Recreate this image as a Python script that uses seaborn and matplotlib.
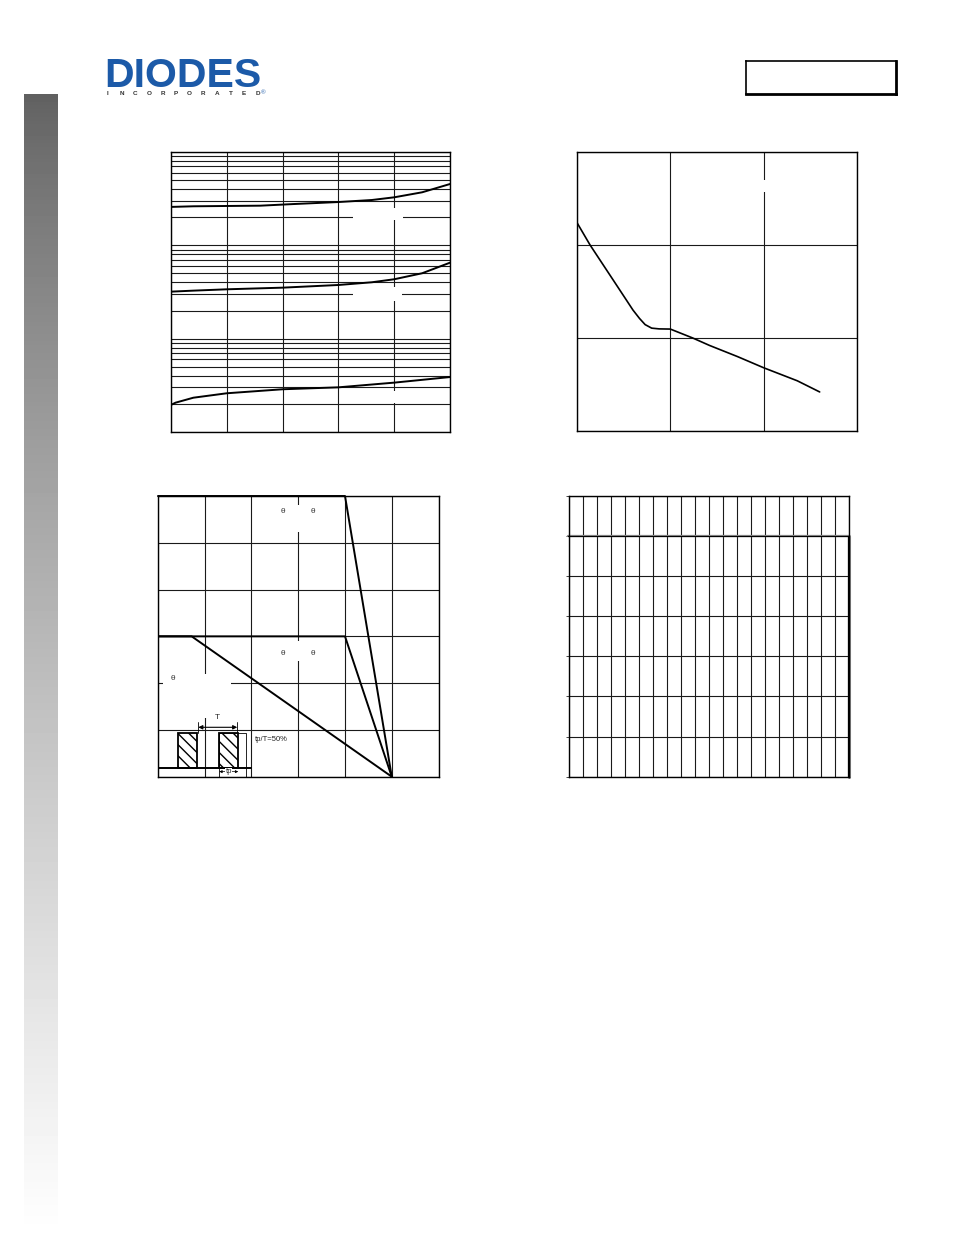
import numpy as np
import matplotlib.pyplot as plt
from matplotlib.patches import Rectangle
from matplotlib.ticker import LogLocator, MultipleLocator, NullFormatter
import seaborn as sns
import pandas as pd

# ---- chart 1 (three curves on a 3-decade log axis) ----
c1_top_x = [0, 20, 50, 80, 110, 150, 180, 200, 225, 250]
c1_top_y = [258, 262, 264, 266, 277, 291, 306, 327, 370, 454]
c1_mid_x = [0, 20, 50, 100, 150, 180, 200, 225, 250]
c1_mid_y = [31.9, 32.7, 33.8, 35.2, 37.6, 40.2, 43.3, 50.2, 65.2]
c1_low_x = [0, 4, 20, 50, 100, 150, 200, 250]
c1_low_y = [1.95, 2.06, 2.33, 2.60, 2.87, 3.01, 3.38, 3.88]

# ---- chart 2 ----
c2_x = [0, 7, 19.5, 30, 33.5, 36.5, 40, 44, 50, 62, 71, 86, 100, 118, 130]
c2_y = [1.12, 1.00, 0.81, 0.65, 0.605, 0.572, 0.553, 0.549, 0.548, 0.50, 0.46, 0.40, 0.34, 0.27, 0.21]

# ---- chart 3 (derating lines) ----
c3_x = [0, 100, 125]
c3_a = [300, 300, 0]
c3_b = [150, 150, 0]
c3_c_x = [0, 18, 125]
c3_c = [150, 150, 0]

logo_sub = 'INCORPORATED'

W, H = 954, 1235
fig = plt.figure(figsize=(W / 100, H / 100), dpi=100)
sns.set_style("white")
plt.rcParams['font.family'] = ['Liberation Sans', 'DejaVu Sans']

GRID = dict(color='#1a1a1a', linewidth=0.8)


def px_axes(x0, y0, x1, y1, **kw):
    return fig.add_axes([x0 / W, 1 - y1 / H, (x1 - x0) / W, (y1 - y0) / H], **kw)


def frame(ax, lw=1.0):
    for s in ax.spines.values():
        s.set_visible(True)
        s.set_color('black')
        s.set_linewidth(lw)
    ax.tick_params(length=0, labelleft=False, labelbottom=False, which='both')


def mask(ax, box, x0, y0, x1, y1):
    # white patch (erased label area) given in page pixels
    bx0, by0, bx1, by1 = box
    ax.add_patch(Rectangle(((x0 - bx0) / (bx1 - bx0), (by1 - y1) / (by1 - by0)),
                           (x1 - x0) / (bx1 - bx0), (y1 - y0) / (by1 - by0),
                           transform=ax.transAxes, facecolor='white', edgecolor='none',
                           zorder=1.5))


# left gradient bar
bar = px_axes(24, 94, 58, 1235)
t = np.linspace(0, 1, 300)[:, None]
shade = (96 + 159 * t ** 0.8) / 255
bar.imshow(np.repeat(shade, 2, axis=1), cmap='gray', vmin=0, vmax=1, aspect='auto')
bar.axis('off')

# logo
fig.text(104 / W, 1 - 87 / H, 'DIODES', fontsize=29.5, fontweight='bold', color='#1c5aa8',
         ha='left', va='baseline')
for i, ch in enumerate(logo_sub):
    fig.text((108 + i * 13.6) / W, 1 - 95 / H, ch, fontsize=4.6, fontweight='bold',
             color='#333333', ha='center', va='baseline')
fig.text(261 / W, 1 - 94 / H, '\u00ae', fontsize=4.5, color='#1c5aa8', ha='left', va='baseline')

# part number box
pb = px_axes(746, 61, 896, 94)
pb.set_xticks([])
pb.set_yticks([])
for side, s in pb.spines.items():
    s.set_color('black')
    s.set_linewidth(2.0 if side in ('right', 'bottom') else 1.2)

# ---- chart 1 ----
b1 = (171, 152, 450, 432)
ax1 = px_axes(*b1)
ax1.set_yscale('log')
ax1.set_xlim(0, 250)
ax1.set_ylim(1, 1000)
ax1.xaxis.set_major_locator(MultipleLocator(50))
ax1.yaxis.set_major_locator(LogLocator(base=10, numticks=10))
ax1.yaxis.set_minor_locator(LogLocator(base=10, subs=np.arange(2, 10), numticks=30))
ax1.yaxis.set_minor_formatter(NullFormatter())
ax1.grid(True, which='both', axis='y', **GRID)
ax1.grid(True, which='major', axis='x', **GRID)
frame(ax1)
for xs, ys in [(c1_top_x, c1_top_y), (c1_mid_x, c1_mid_y), (c1_low_x, c1_low_y)]:
    sns.lineplot(x=xs, y=ys, ax=ax1, color='black', linewidth=1.4, zorder=3)
mask(ax1, b1, 353, 208, 403, 220)
mask(ax1, b1, 353, 287, 402, 301)
mask(ax1, b1, 385, 391, 405, 403)

# ---- chart 2 ----
b2 = (577, 152, 857, 431)
ax2 = px_axes(*b2)
ax2.set_xlim(0, 150)
ax2.set_ylim(0, 1.5)
ax2.xaxis.set_major_locator(MultipleLocator(50))
ax2.yaxis.set_major_locator(MultipleLocator(0.5))
ax2.grid(True, **GRID)
frame(ax2)
sns.lineplot(x=c2_x, y=c2_y, ax=ax2, color='black', linewidth=1.2, zorder=3)
mask(ax2, b2, 755, 180, 775, 192)

# ---- chart 3 ----
b3 = (158, 496, 438.5, 776.7)
ax3 = px_axes(*b3)
ax3.set_xlim(0, 150)
ax3.set_ylim(0, 300)
ax3.xaxis.set_major_locator(MultipleLocator(25))
ax3.yaxis.set_major_locator(MultipleLocator(50))
ax3.grid(True, **GRID)
frame(ax3)
sns.lineplot(x=c3_x, y=c3_a, ax=ax3, color='black', linewidth=1.4, zorder=3, clip_on=False)
sns.lineplot(x=c3_x, y=c3_b, ax=ax3, color='black', linewidth=1.4, zorder=3)
sns.lineplot(x=c3_c_x, y=c3_c, ax=ax3, color='black', linewidth=1.4, zorder=3)
mask(ax3, b3, 270, 505, 330, 532)
mask(ax3, b3, 270, 641, 330, 661)
mask(ax3, b3, 163, 674, 231, 718)
for tx, ty in [(0.444, 0.946), (0.553, 0.946), (0.444, 0.44), (0.553, 0.44), (0.055, 0.35)]:
    ax3.text(tx, ty, '\u03b8', transform=ax3.transAxes, fontsize=6, ha='center',
             va='center', color='#333333', zorder=4)

# pulse inset
for rx in (0.0723, 0.2184):
    ax3.add_patch(Rectangle((rx, 0.0321), 0.0667, 0.1225, transform=ax3.transAxes,
                            facecolor='white', edgecolor='black', hatch='\\\\\\',
                            linewidth=1.3, zorder=4))
ax3.add_patch(Rectangle((0.2184, 0.0), 0.0936, 0.1546, transform=ax3.transAxes,
                        facecolor='none', edgecolor='black', linewidth=0.6, zorder=4))
ax3.plot([0, 0.333], [0.0321, 0.0321], transform=ax3.transAxes, color='black',
         linewidth=1.4, zorder=5)
ax3.annotate('', xy=(0.1436, 0.176), xytext=(0.2825, 0.176), xycoords='axes fraction',
             arrowprops=dict(arrowstyle='<|-|>', color='black', lw=0.8,
                             mutation_scale=6, shrinkA=0, shrinkB=0), zorder=5)
ax3.plot([0.1436, 0.1436], [0.155, 0.195], transform=ax3.transAxes, color='black', lw=0.6)
ax3.plot([0.2825, 0.2825], [0.155, 0.195], transform=ax3.transAxes, color='black', lw=0.6)
ax3.text(0.213, 0.198, 'T', transform=ax3.transAxes, fontsize=6, ha='center',
         va='bottom', zorder=5)
ax3.annotate('', xy=(0.2184, 0.018), xytext=(0.2861, 0.018), xycoords='axes fraction',
             arrowprops=dict(arrowstyle='<|-|>', color='black', lw=0.5,
                             mutation_scale=4, shrinkA=0, shrinkB=0), zorder=5)
ax3.text(0.252, 0.018, 'tp', transform=ax3.transAxes, fontsize=5.5, ha='center',
         va='center', zorder=6, bbox=dict(facecolor='white', edgecolor='none', pad=0.3))
ax3.text(0.347, 0.131, 'tp/T=50%', transform=ax3.transAxes, fontsize=5.5, ha='left',
         va='center', color='#222222', zorder=5)

# ---- chart 4 (empty grid) ----
b4 = (569, 495.7, 849.3, 776.7)
ax4 = px_axes(*b4)
ax4.set_xlim(0, 20)
ax4.set_ylim(0, 7)
ax4.xaxis.set_major_locator(MultipleLocator(1))
ax4.yaxis.set_major_locator(MultipleLocator(1))
ax4.grid(True, **GRID)
frame(ax4)
ax4.tick_params(axis='y', which='major', left=True, length=2, width=0.6, direction='out')
ax4.plot([-0.005, 1.0], [6 / 7, 6 / 7], transform=ax4.transAxes, color='#888888',
         linewidth=1.6, zorder=1.8, clip_on=False)
ax4.plot([1.0, 1.0], [0, 6 / 7], transform=ax4.transAxes, color='#888888',
         linewidth=2.2, zorder=1.8, clip_on=False)
ax4.plot([-0.005, 1.0], [6 / 7, 6 / 7], transform=ax4.transAxes, color='black',
         linewidth=0.8, zorder=2, clip_on=False)
ax4.plot([0.997, 0.997], [0, 6 / 7], transform=ax4.transAxes, color='black',
         linewidth=0.9, zorder=2, clip_on=False)

fig.savefig('out.png', dpi=100, facecolor='white')
